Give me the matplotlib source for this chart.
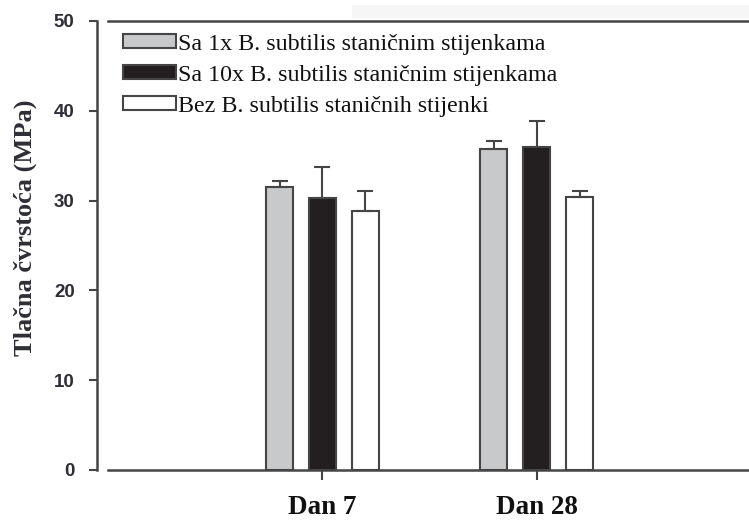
import matplotlib.pyplot as plt
import numpy as np
from matplotlib.patches import Rectangle

days = ['Dan 7', 'Dan 28']
series = ['Sa 1x B. subtilis staničnim stijenkama',
          'Sa 10x B. subtilis staničnim stijenkama',
          'Bez B. subtilis staničnih stijenki']
means = [[31.5, 35.7],
         [30.3, 36.0],
         [28.8, 30.4]]
errors = [[0.7, 0.9],
          [3.4, 2.9],
          [2.3, 0.7]]
fills = ['#c8c9cb', '#231f20', '#ffffff']
yticks = [0, 10, 20, 30, 40, 50]

edge = '#454545'
txt = '#2e2e36'

plt.rcParams['font.family'] = 'Liberation Sans'
plt.rcParams['font.weight'] = 'bold'
plt.rcParams['ytick.labelsize'] = 13.5
plt.rcParams['ytick.color'] = edge
plt.rcParams['ytick.labelcolor'] = txt

fig = plt.figure(figsize=(7.49, 5.21), dpi=100)
ax = fig.add_axes([0.1442, 0.098, 0.8558, 0.8617])

# faint screenshot shadow along the top
fig.patches.append(Rectangle((0.47, 0.965), 0.53, 0.026, transform=fig.transFigure,
                             facecolor='#f6f6f6', edgecolor='none', zorder=0))

x = np.arange(len(days))
width = 0.125
offsets = [-0.2, 0.0, 0.2]
for i in range(3):
    ax.bar(x + offsets[i], means[i], width, color=fills[i], edgecolor=edge,
           linewidth=1.5, label=series[i], zorder=2)
    ax.errorbar(x + offsets[i], means[i], yerr=[np.zeros(2), errors[i]], fmt='none',
                ecolor=edge, elinewidth=1.5, capsize=6, capthick=1.5, zorder=3)

ax.set_xlim(-1.0, 1.99)
ax.set_ylim(0, 50)
ax.set_yticks(yticks)
ax.set_xticks(x)
ax.set_xticklabels(days, family='Liberation Serif', fontweight='bold',
                   fontsize=19.5, color='#111111')

ax.tick_params(axis='y', direction='out', length=6, width=1.5, pad=10)
ax.tick_params(axis='x', direction='out', length=7, width=1.5, color=edge, pad=11)

ax.spines['right'].set_visible(False)
ax.spines['left'].set_position(('outward', 8))
for s in ['left', 'bottom', 'top']:
    ax.spines[s].set_color(edge)
    ax.spines[s].set_linewidth(1.8)

ax.set_ylabel('Tlačna čvrstoća (MPa)', family='Liberation Serif', fontweight='bold',
              fontsize=19, color=txt)
ax.yaxis.set_label_coords(-0.111, 0.54)

leg = ax.legend(loc='upper left', bbox_to_anchor=(0.023, 0.972), frameon=False,
                prop={'family': 'Liberation Serif', 'size': 17.3, 'weight': 'normal'},
                handlelength=2.2, handleheight=0.5, handletextpad=0.1,
                labelspacing=0.42, borderaxespad=0, borderpad=0)
for t in leg.get_texts():
    t.set_color('#111111')

fig.savefig('out.png', dpi=100)
